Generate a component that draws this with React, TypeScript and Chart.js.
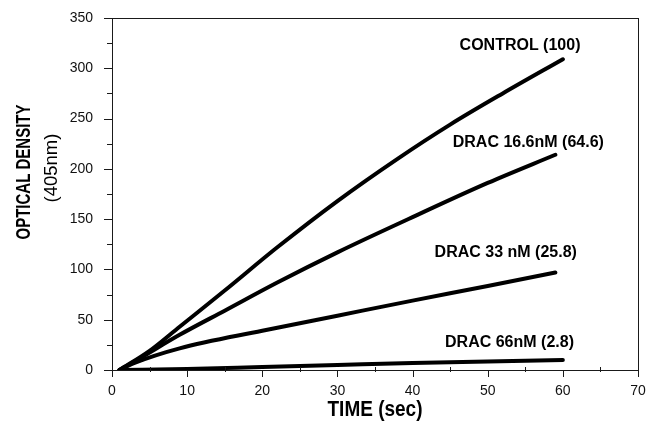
import React, { useEffect, useRef } from "react";
import { Chart, registerables } from "chart.js";

Chart.register(...registerables);

// ---- data ----
const seriesNames = ["CONTROL (100)", "DRAC 16.6nM (64.6)", "DRAC 33 nM (25.8)", "DRAC 66nM (2.8)"];

const controlX = [1, 5, 9, 15, 22, 30, 38, 45, 52, 60];
const controlY = [0, 19, 43, 79, 122, 168, 210, 244, 275, 309];

const drac166X = [1, 4, 9, 15, 22, 30, 40, 50, 59];
const drac166Y = [0, 13, 35, 59, 87, 117, 152, 186, 214];

const drac33X = [1, 3, 9, 20, 30, 40, 50, 59];
const drac33Y = [0, 7, 21.5, 39, 54, 69, 83.5, 97];

const drac66X = [1, 10, 20, 30, 40, 50, 60];
const drac66Y = [0, 1, 3, 5, 7, 8.5, 10];

const xMajorTicks = [0, 10, 20, 30, 40, 50, 60, 70];
const xMinorTicks = [5, 15, 25, 35, 45, 55, 65];
const yMajorTicks = [0, 50, 100, 150, 200, 250, 300, 350];
const yMinorTicks = [25, 75, 125, 175, 225, 275, 325];

const xTitle = "TIME (sec)";
const yTitle = "OPTICAL DENSITY";
const ySubTitle = "(405nm)";

const zip = (xs: number[], ys: number[]) => xs.map((x, i) => ({ x, y: ys[i] }));

export default function App() {
  const ref = useRef<HTMLCanvasElement>(null);

  useEffect(() => {
    document.body.style.margin = "0";
    const canvas = ref.current!;

    // label anchors (data units), drawn by plugin
    const labelAnchors: [number, number][] = [
      [54.3, 323],
      [55.4, 226],
      [52.4, 116.5],
      [52.9, 26.8],
    ];

    const decor = {
      id: "decor",
      afterDraw(chart: any) {
        const ctx = chart.ctx as CanvasRenderingContext2D;
        const xs = chart.scales.x;
        const ys = chart.scales.y;
        const a = chart.chartArea;
        ctx.save();
        // frame
        ctx.strokeStyle = "#1a1a1a";
        ctx.lineWidth = 1;
        ctx.strokeRect(Math.round(a.left) + 0.5, Math.round(a.top) + 0.5, Math.round(a.right - a.left), Math.round(a.bottom - a.top));
        // ticks
        ctx.beginPath();
        xMajorTicks.forEach((v) => {
          const p = Math.round(xs.getPixelForValue(v)) + 0.5;
          ctx.moveTo(p, a.bottom);
          ctx.lineTo(p, a.bottom + 7);
        });
        xMinorTicks.forEach((v) => {
          const p = Math.round(xs.getPixelForValue(v)) + 0.5;
          ctx.moveTo(p, a.bottom - 3);
          ctx.lineTo(p, a.bottom + 2);
        });
        yMajorTicks.forEach((v) => {
          const p = Math.round(ys.getPixelForValue(v)) + 0.5;
          ctx.moveTo(a.left - 8, p);
          ctx.lineTo(a.left, p);
        });
        yMinorTicks.forEach((v) => {
          const p = Math.round(ys.getPixelForValue(v)) + 0.5;
          ctx.moveTo(a.left - 5, p);
          ctx.lineTo(a.left, p);
        });
        ctx.stroke();

        // series labels
        ctx.fillStyle = "#000";
        ctx.font = "bold 16px 'Liberation Sans', Arial, sans-serif";
        ctx.textAlign = "center";
        ctx.textBaseline = "middle";
        seriesNames.forEach((n, i) => {
          const [lx, ly] = labelAnchors[i];
          ctx.fillText(n, xs.getPixelForValue(lx), ys.getPixelForValue(ly));
        });

        // axis titles
        ctx.save();
        ctx.translate((a.left + a.right) / 2, 410);
        ctx.scale(1, 1.15);
        ctx.font = "bold 19px 'Liberation Sans', Arial, sans-serif";
        ctx.fillText(xTitle, 0, 0);
        ctx.restore();

        ctx.save();
        ctx.translate(25, 172);
        ctx.rotate(-Math.PI / 2);
        ctx.scale(1, 1.3);
        ctx.font = "bold 15px 'Liberation Sans', Arial, sans-serif";
        ctx.fillText(yTitle, 0, 0);
        ctx.restore();

        ctx.save();
        ctx.translate(52, 168);
        ctx.rotate(-Math.PI / 2);
        ctx.font = "18.5px 'Liberation Sans', Arial, sans-serif";
        ctx.fillText(ySubTitle, 0, 0);
        ctx.restore();

        ctx.restore();
      },
    };

    const lineStyle = {
      borderColor: "#000",
      borderWidth: 4,
      pointRadius: 0,
      fill: false,
      cubicInterpolationMode: "monotone" as const,
      borderCapStyle: "round" as const,
      borderJoinStyle: "round" as const,
    };

    const chart = new Chart(canvas, {
      type: "line",
      data: {
        datasets: [
          { label: seriesNames[0], data: zip(controlX, controlY), ...lineStyle },
          { label: seriesNames[1], data: zip(drac166X, drac166Y), ...lineStyle },
          { label: seriesNames[2], data: zip(drac33X, drac33Y), ...lineStyle },
          { label: seriesNames[3], data: zip(drac66X, drac66Y), ...lineStyle },
        ],
      },
      options: {
        animation: false,
        responsive: false,
        maintainAspectRatio: false,
        layout: { padding: { left: 0, right: 8, top: 18, bottom: 0 } },
        plugins: { legend: { display: false }, tooltip: { enabled: false } },
        scales: {
          x: {
            type: "linear",
            min: 0,
            max: 70,
            grid: { display: false },
            border: { display: false },
            afterBuildTicks: (s: any) => {
              s.ticks = xMajorTicks.map((v) => ({ value: v }));
            },
            afterFit: (s: any) => {
              s.height = 55;
              s.paddingLeft = 0;
              s.paddingRight = 0;
            },
            ticks: {
              padding: 5,
              color: "#111",
              maxRotation: 0,
              font: { family: "'Liberation Sans', Arial, sans-serif", size: 14 },
            },
          },
          y: {
            type: "linear",
            min: 0,
            max: 350,
            grid: { display: false },
            border: { display: false },
            afterBuildTicks: (s: any) => {
              s.ticks = yMajorTicks.map((v) => ({ value: v }));
            },
            afterFit: (s: any) => {
              s.width = 112;
              s.paddingTop = 0;
              s.paddingBottom = 0;
            },
            ticks: {
              padding: 11,
              color: "#111",
              font: { family: "'Liberation Sans', Arial, sans-serif", size: 14 },
            },
          },
        },
      },
      plugins: [decor],
    });
    return () => chart.destroy();
  }, []);

  return (
    <div style={{ width: 646, height: 425, background: "#fff" }}>
      <canvas ref={ref} width={646} height={425} style={{ display: "block" }} />
    </div>
  );
}
